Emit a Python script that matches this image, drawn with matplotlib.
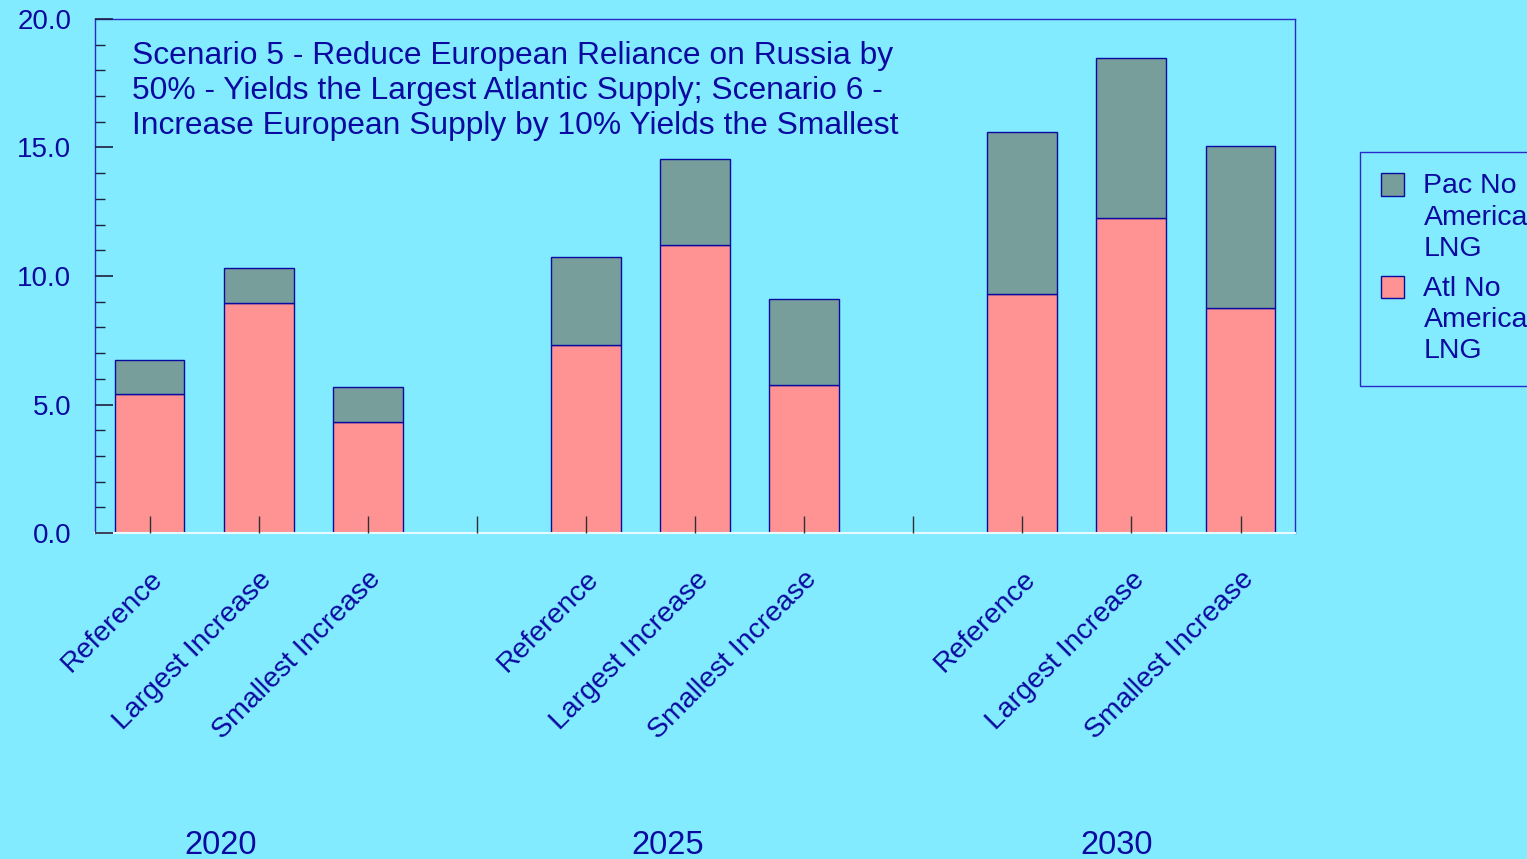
import numpy as np
import matplotlib
matplotlib.use("Agg")
import matplotlib.pyplot as plt
from matplotlib.ticker import MultipleLocator
from matplotlib.legend_handler import HandlerBase
from matplotlib.patches import Rectangle

years = ["2020", "2025", "2030"]
cases = ["Reference", "Largest Increase", "Smallest Increase"]
# Atlantic North America LNG (bottom) and Pacific North America LNG (top), per year x case
atl = [5.4, 8.95, 4.3, 7.3, 11.2, 5.75, 9.3, 12.25, 8.75]
pac = [1.35, 1.35, 1.4, 3.45, 3.35, 3.35, 6.3, 6.25, 6.3]
title_text = ("Scenario 5 - Reduce European Reliance on Russia by\n"
              "50% - Yields the Largest Atlantic Supply; Scenario 6 -\n"
              "Increase European Supply by 10% Yields the Smallest")

bg = "#82EBFF"
navy = "#0A0AA0"

plt.rcParams['font.family'] = ['Liberation Sans', 'DejaVu Sans']


class TopSquare(HandlerBase):
    # square swatch sitting at the top of a multi-line legend entry
    def create_artists(self, legend, orig_handle, xdescent, ydescent,
                       width, height, fontsize, trans):
        r = Rectangle((-xdescent, -ydescent + height - width + 20), width, width,
                      facecolor=orig_handle.get_facecolor(),
                      edgecolor=orig_handle.get_edgecolor(), linewidth=1.0,
                      transform=trans)
        return [r]


fig = plt.figure(figsize=(15.27, 8.59), dpi=100, facecolor=bg)
ax = fig.add_axes([0.0622, 0.3795, 0.7859, 0.5984])
ax.set_facecolor(bg)
ax.set_axisbelow(False)

# 3 bars per year, one empty slot between years
pos = []
for g in range(len(years)):
    for c in range(len(cases)):
        pos.append(g * 4 + c)
pos = np.array(pos)

b1 = ax.bar(pos, atl, width=0.64, color="#FF9393", edgecolor=navy,
            linewidth=1.0)
b2 = ax.bar(pos, pac, bottom=atl, width=0.64, color="#779E9B", edgecolor=navy,
            linewidth=1.0)

ax.set_xlim(-0.5, 10.5)
ax.set_ylim(0, 20)

ax.yaxis.set_major_locator(MultipleLocator(5))
ax.yaxis.set_minor_locator(MultipleLocator(1))
ax.yaxis.set_major_formatter(matplotlib.ticker.FormatStrFormatter('%.1f'))
ax.tick_params(axis='y', which='major', direction='in', length=13, width=1.2,
               color='#202040', labelsize=20, labelcolor=navy, pad=17)
ax.tick_params(axis='y', which='minor', direction='in', length=7, width=1,
               color='#202040')

ax.set_xticks(np.arange(0, 11))
labels = []
for i in range(11):
    if i % 4 == 3:
        labels.append("")
    else:
        labels.append(cases[i % 4])
ax.set_xticklabels(labels, rotation=45, ha='right', va='top',
                   rotation_mode='anchor', fontsize=20.5, color=navy)
ax.tick_params(axis='x', direction='in', length=12, width=1, color='#303030',
               pad=24)

for s in ['left', 'top', 'right']:
    ax.spines[s].set_color('#2A2AC8')
    ax.spines[s].set_linewidth(1)
ax.spines['bottom'].set_color('#E8FAFF')
ax.spines['bottom'].set_linewidth(1.5)

ax.text(0.031, 0.958, title_text, transform=ax.transAxes, ha='left', va='top',
        fontsize=22.9, color=navy, linespacing=1.22)

# year labels under each group
for x, yr in zip([0.65, 4.75, 8.86], years):
    ax.text(x, -0.607, yr, transform=ax.get_xaxis_transform(), ha='center',
            va='center', fontsize=23.5, color=navy)

leg = fig.legend([b2[0], b1[0]], ["Pac No\nAmerica\nLNG", "Atl No\nAmerica\nLNG"],
                 loc='upper left',
                 bbox_to_anchor=(1360 / 1527, 1 - 152 / 859),
                 fontsize=20.5, labelcolor=navy, frameon=True, fancybox=False,
                 handler_map={Rectangle: TopSquare()},
                 handlelength=0.8, handleheight=1.5, handletextpad=0.68,
                 labelspacing=0.5, borderpad=0.75, borderaxespad=0,
                 framealpha=1)
leg.get_frame().set_facecolor(bg)
leg.get_frame().set_edgecolor('#2A2AC8')
for t in leg.get_texts():
    t.set_linespacing(1.26)

fig.savefig("out.png", dpi=100, facecolor=bg)
